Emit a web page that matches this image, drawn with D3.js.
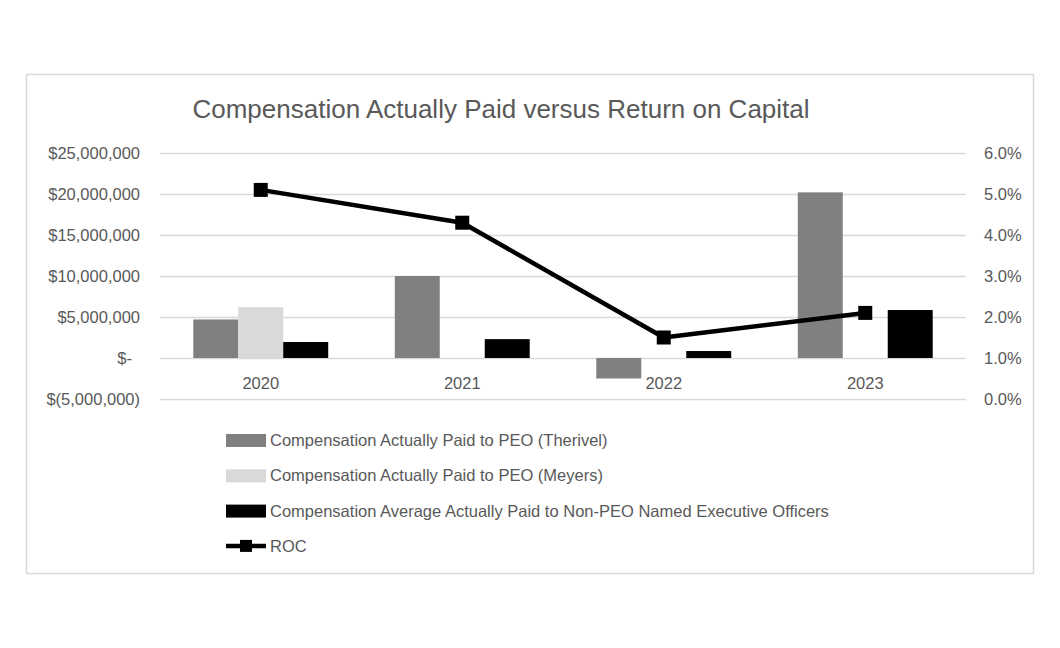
<!DOCTYPE html>
<html>
<head>
<meta charset="utf-8">
<script src="https://cdn.jsdelivr.net/npm/d3@7"></script>
<style>
  body { margin: 0; background: #fff; }
  text { font-family: "Liberation Sans", Arial, sans-serif; fill: #595959; }
</style>
</head>
<body>
<div id="chart"></div>
<script>
const years = ['2020', '2021', '2022', '2023'];
const therivel = [4700000, 10000000, -2500000, 20200000];
const meyers = [6200000, null, null, null];
const nonPeo = [1950000, 2300000, 850000, 5850000];
const roc = [0.051, 0.043, 0.015, 0.021];
const leftTicks = [-5000000, 0, 5000000, 10000000, 15000000, 20000000, 25000000];
const rightTicks = [0, 0.01, 0.02, 0.03, 0.04, 0.05, 0.06];

const series = [
  { name: 'Compensation Actually Paid to PEO (Therivel)', values: therivel, color: '#808080' },
  { name: 'Compensation Actually Paid to PEO (Meyers)', values: meyers, color: '#d9d9d9' },
  { name: 'Compensation Average Actually Paid to Non-PEO Named Executive Officers', values: nonPeo, color: '#000000' }
];

const width = 1060, height = 648;
const margin = { top: 153, right: 94, bottom: 249, left: 160 };
const fs = '16.5px';

const svg = d3.select('#chart').append('svg')
  .attr('width', width)
  .attr('height', height);

// chart frame
svg.append('rect')
  .attr('x', 26.5).attr('y', 74.5)
  .attr('width', 1007).attr('height', 499)
  .attr('fill', '#fff')
  .attr('stroke', '#d9d9d9')
  .attr('stroke-width', 1.5);

svg.append('text')
  .attr('x', 501).attr('y', 118)
  .attr('text-anchor', 'middle')
  .style('font-size', '26px')
  .text('Compensation Actually Paid versus Return on Capital');

const x = d3.scaleBand()
  .domain(years)
  .range([margin.left, width - margin.right]);

const xInner = d3.scaleBand()
  .domain(series.map((d, i) => i))
  .range([0, x.bandwidth()])
  .paddingOuter(0.74)
  .paddingInner(0);

const y = d3.scaleLinear()
  .domain([-5000000, 25000000])
  .range([height - margin.bottom, margin.top]);

const y2 = d3.scaleLinear()
  .domain([0, 0.06])
  .range([height - margin.bottom, margin.top]);

// gridlines
svg.append('g')
  .selectAll('line')
  .data(leftTicks)
  .join('line')
  .attr('x1', margin.left)
  .attr('x2', width - margin.right)
  .attr('y1', d => Math.round(y(d)) + 0.5)
  .attr('y2', d => Math.round(y(d)) + 0.5)
  .attr('stroke', '#d9d9d9')
  .attr('stroke-width', 1.5);

const fmtMoney = d => {
  if (d === 0) return '$-';
  const s = d3.format(',')(Math.abs(d));
  return d < 0 ? `$(${s})` : `$${s}`;
};

const leftAxis = svg.append('g')
  .attr('transform', `translate(${margin.left},0)`)
  .call(d3.axisLeft(y).tickValues(leftTicks).tickFormat(fmtMoney).tickSize(0).tickPadding(20));
leftAxis.select('.domain').remove();
leftAxis.selectAll('text').style('font-size', fs).attr('fill', '#595959');
leftAxis.selectAll('text').filter(d => d === 0).attr('dx', '-8');

const rightAxis = svg.append('g')
  .attr('transform', `translate(${width - margin.right},0)`)
  .call(d3.axisRight(y2).tickValues(rightTicks).tickFormat(d3.format('.1%')).tickSize(0).tickPadding(18));
rightAxis.select('.domain').remove();
rightAxis.selectAll('text').style('font-size', fs).attr('fill', '#595959');

// category labels
svg.append('g')
  .selectAll('text')
  .data(years)
  .join('text')
  .attr('x', d => x(d) + x.bandwidth() / 2)
  .attr('y', y(0) + 31)
  .attr('text-anchor', 'middle')
  .style('font-size', fs)
  .text(d => d);

// bars
series.forEach((s, i) => {
  svg.append('g')
    .attr('fill', s.color)
    .selectAll('rect')
    .data(years.map((yr, j) => ({ yr, v: s.values[j] })).filter(d => d.v !== null))
    .join('rect')
    .attr('x', d => x(d.yr) + xInner(i))
    .attr('width', xInner.bandwidth())
    .attr('y', d => y(Math.max(0, d.v)))
    .attr('height', d => Math.abs(y(d.v) - y(0)));
});

// ROC line
const line = d3.line()
  .x((d, i) => x(years[i]) + x.bandwidth() / 2)
  .y(d => y2(d));

svg.append('path')
  .datum(roc)
  .attr('d', line)
  .attr('fill', 'none')
  .attr('stroke', '#000')
  .attr('stroke-width', 4.5)
  .attr('stroke-linejoin', 'round');

const mk = 14;
svg.append('g')
  .selectAll('rect')
  .data(roc)
  .join('rect')
  .attr('x', (d, i) => x(years[i]) + x.bandwidth() / 2 - mk / 2)
  .attr('y', d => y2(d) - mk / 2)
  .attr('width', mk)
  .attr('height', mk)
  .attr('fill', '#000');

// legend
const legend = svg.append('g').attr('transform', 'translate(226,440)');
const rowH = 35.3;
series.forEach((s, i) => {
  const g = legend.append('g').attr('transform', `translate(0,${i * rowH})`);
  g.append('rect').attr('x', 0).attr('y', -6).attr('width', 40).attr('height', 13).attr('fill', s.color);
  g.append('text').attr('x', 44).attr('y', 6).style('font-size', fs).text(s.name);
});
const lg = legend.append('g').attr('transform', `translate(0,${3 * rowH})`);
lg.append('line').attr('x1', 0).attr('x2', 40).attr('y1', 0).attr('y2', 0).attr('stroke', '#000').attr('stroke-width', 4.5);
lg.append('rect').attr('x', 14).attr('y', -6).attr('width', 12).attr('height', 12).attr('fill', '#000');
lg.append('text').attr('x', 44).attr('y', 6).style('font-size', fs).text('ROC');
</script>
</body>
</html>
